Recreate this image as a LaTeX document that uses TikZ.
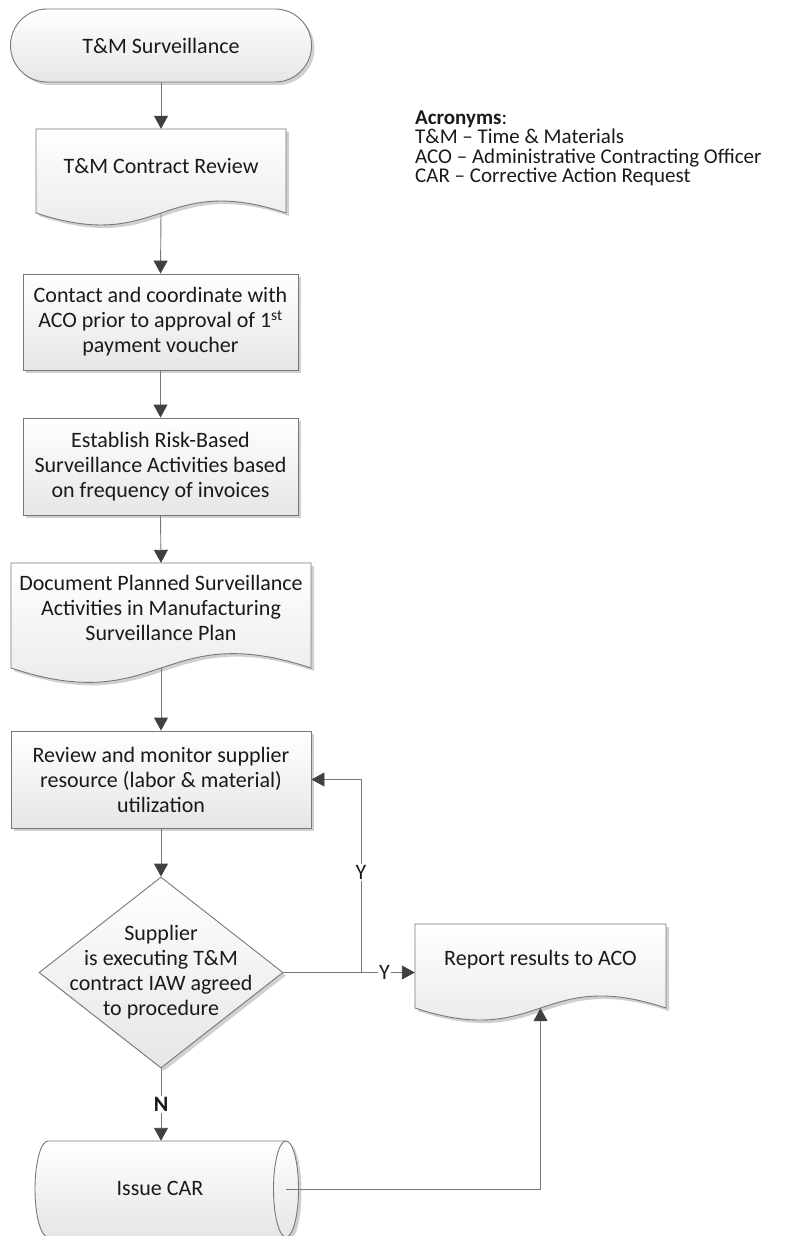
\documentclass[tikz,border=0pt]{standalone}
\usepackage{fontspec}
\setmainfont{Carlito}
\usetikzlibrary{arrows.meta,shapes.geometric,shadows,calc}
\definecolor{edgec}{RGB}{120,120,120}
\definecolor{tipc}{RGB}{64,64,64}
\definecolor{shadec}{RGB}{230,230,230}
\definecolor{shadowc}{RGB}{208,208,208}
\definecolor{txtc}{RGB}{26,26,26}
\newcommand{\docshape}[4]{%
  \fill[shadowc, shift={(3,-3)}] (#1,-#2) -- (#3,-#2) -- (#3,-#4)
     .. controls ({(#1+#3)/2},{-#4+0.166*(#3-#1)}) and ({(#1+#3)/2},{-#4-0.166*(#3-#1)}) .. (#1,-#4) -- cycle;
  \path[draw=edgec, line width=0.9pt, top color=white, bottom color=shadec] (#1,-#2) -- (#3,-#2) -- (#3,-#4)
     .. controls ({(#1+#3)/2},{-#4+0.166*(#3-#1)}) and ({(#1+#3)/2},{-#4-0.166*(#3-#1)}) .. (#1,-#4) -- cycle;
}
\begin{document}
\begin{tikzpicture}[x=1pt,y=1pt,
  every node/.style={font=\fontsize{22}{25}\selectfont, text=txtc},
  boxshape/.style={rectangle, draw=edgec, line width=0.9pt, top color=white, bottom color=shadec,
     drop shadow={shadow xshift=3pt, shadow yshift=-3pt, fill=shadowc, opacity=1}, align=center, inner sep=0pt},
  frame/.style={rectangle, draw=none, inner sep=0pt},
  txt/.style={align=center, inner sep=0pt},
  conn/.style={draw=edgec, line width=0.9pt, -{Triangle[length=13pt,width=14pt,color=tipc,fill=tipc]}},
  lbl/.style={fill=white, inner sep=1.5pt},
]
\useasboundingbox (0,0) rectangle (788,-1236);

% terminal
\node[boxshape, rounded corners=36.5pt, minimum width=301pt, minimum height=73pt] (term) at (161,-45.5) {T\&M Surveillance};

% document: contract review
\docshape{36}{129}{286}{213}
\node[frame, minimum width=250pt, minimum height=84pt] (cr) at (161,-171) {};
\node[txt] (crt) at (161,-166) {T\&M Contract Review};

% contact box
\node[boxshape, minimum width=275pt, minimum height=96pt] (contact) at (160.5,-322)
  {Contact and coordinate with\\ ACO prior to approval of 1\textsuperscript{st}\\ payment voucher};

% establish box
\node[boxshape, minimum width=275pt, minimum height=97pt] (estab) at (160.5,-466.5)
  {Establish Risk-Based\\ Surveillance Activities based\\ on frequency of invoices};

% document planned
\docshape{11}{563}{311}{668}
\node[frame, minimum width=300pt, minimum height=105pt] (dp) at (161,-615.5) {};
\node[txt] (dpt) at (161,-607.5) {Document Planned Surveillance\\ Activities in Manufacturing\\ Surveillance Plan};

% review box
\node[boxshape, minimum width=300pt, minimum height=97pt] (rev) at (161,-779.5)
  {Review and monitor supplier\\ resource (labor \& material)\\ utilization};

% decision
\node[boxshape, diamond, aspect=1.277, minimum width=244pt, minimum height=191pt] (dia) at (161,-972.5) {};
\node[txt] (diat) at (161,-972) {Supplier\\ is executing T\&M\\ contract IAW agreed\\ to procedure};

% report
\docshape{415}{924}{666}{1008}
\node[frame, minimum width=251pt, minimum height=84pt] (rep) at (540.5,-966) {};
\node[txt] (rept) at (540.5,-960) {Report results to ACO};

% issue CAR (horizontal cylinder)
\fill[shadowc, shift={(3,-3)}] (48,-1141) -- (286,-1141) arc[start angle=90, end angle=-90, x radius=12.5, y radius=48]
   -- (48,-1237) arc[start angle=-90, end angle=-270, x radius=13, y radius=48] -- cycle;
\path[draw=edgec, line width=0.9pt, top color=white, bottom color=shadec]
   (48,-1141) -- (286,-1141) arc[start angle=90, end angle=-90, x radius=12.5, y radius=48]
   -- (48,-1237) arc[start angle=-90, end angle=-270, x radius=13, y radius=48] -- cycle;
\draw[edgec, line width=0.9pt] (286,-1141) arc[start angle=90, end angle=270, x radius=12.5, y radius=48];
\node[frame, minimum width=238pt, minimum height=96pt] (car) at (167,-1189) {};
\node[txt] (cart) at (160,-1188) {Issue CAR};

% acronyms
\node[anchor=north west, align=left, inner sep=0pt, font=\fontsize{21}{19.5}\selectfont] (acr) at (415,-110.5)
  {{\bfseries Acronyms}:\\ T\&M – Time \& Materials\\ ACO – Administrative Contracting Officer\\ CAR – Corrective Action Request};

% connectors
\draw[conn] (term.south) -- (cr.north);
\draw[conn] (cr.south) -- (contact.north);
\draw[conn] (contact.south) -- (estab.north);
\draw[conn] (estab.south) -- (dp.north);
\draw[conn] (dp.south) -- (rev.north);
\draw[conn] (rev.south) -- (dia.north);
\coordinate (j) at (361,-972.5);
\coordinate (jt) at (361,-779.5);
\draw[conn] (dia.east) -- node[lbl, pos=0.77] (yl1) {Y} (dia.east -| rep.west);
\draw[conn] (dia.east) -- (j) -- node[lbl, pos=0.52] (yl2) {Y} (jt) -- (rev.east);
\draw[conn] (dia.south) -- node[lbl, pos=0.5, font=\fontsize{22}{25}\selectfont\bfseries] (nl) {N} (dia.south |- car.north);
\draw[conn] (car.east) -| (rep.south);
\end{tikzpicture}
\end{document}
